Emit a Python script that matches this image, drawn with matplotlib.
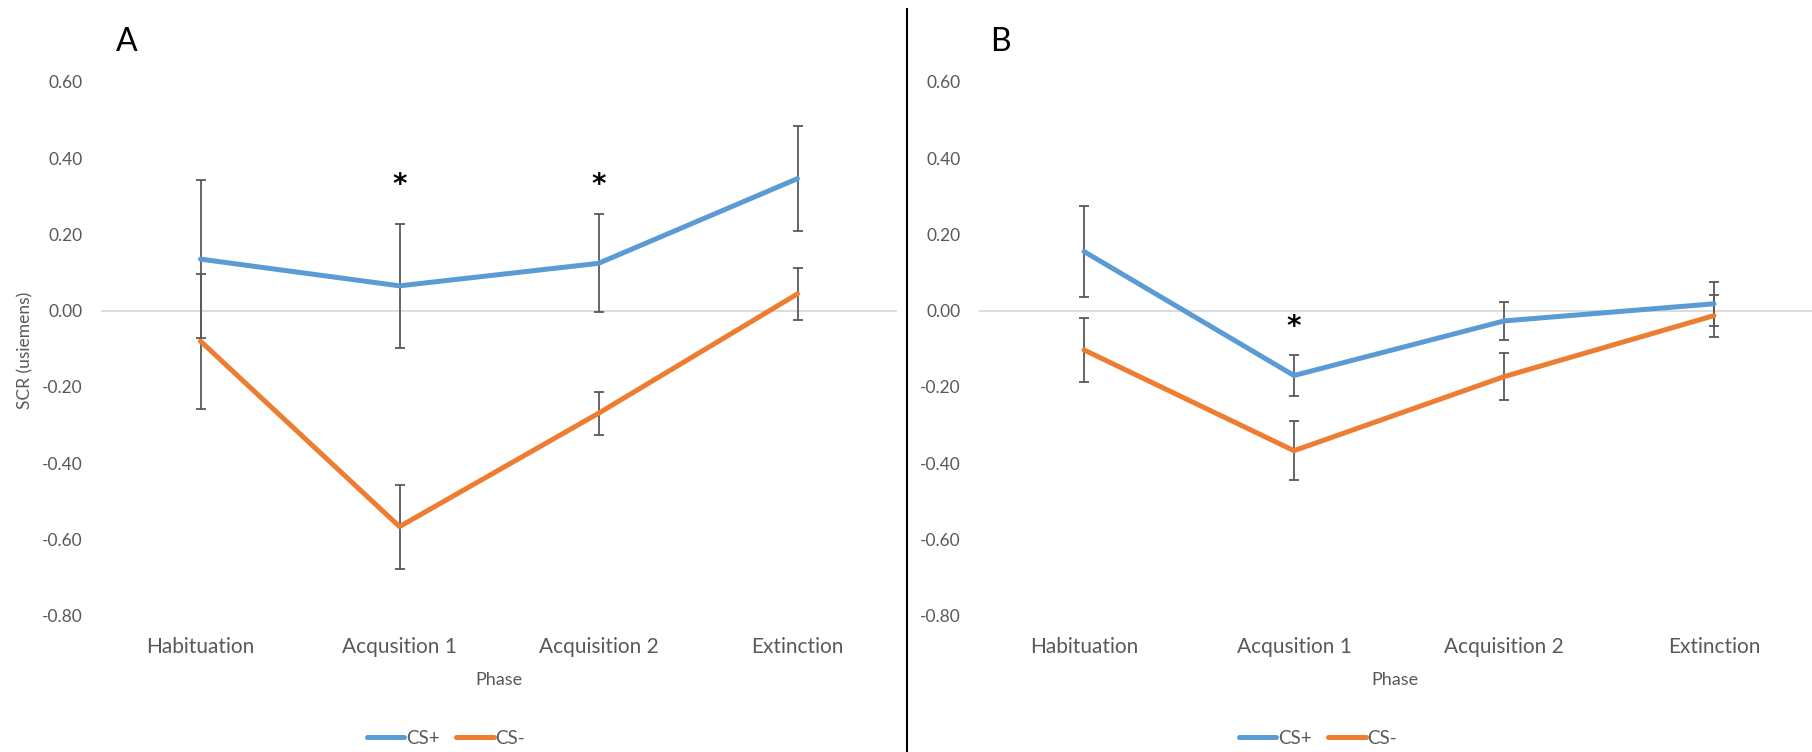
import matplotlib
matplotlib.use("Agg")
import matplotlib.pyplot as plt
from matplotlib.lines import Line2D

plt.rcParams["font.family"] = ["Lato", "DejaVu Sans"]
plt.rcParams["axes.unicode_minus"] = False

phases = ["Habituation", "Acqusition 1", "Acquisition 2", "Extinction"]

# panel A
cs_plus_a = [0.135, 0.065, 0.124, 0.346]
cs_plus_a_err = [0.207, 0.162, 0.128, 0.137]
cs_minus_a = [-0.080, -0.566, -0.269, 0.044]
cs_minus_a_err = [0.177, 0.110, 0.057, 0.068]
stars_a = [1, 2]
star_y_a = [0.33, 0.33]

# panel B
cs_plus_b = [0.155, -0.170, -0.027, 0.018]
cs_plus_b_err = [0.118, 0.053, 0.049, 0.057]
cs_minus_b = [-0.103, -0.367, -0.173, -0.013]
cs_minus_b_err = [0.085, 0.078, 0.061, 0.055]
stars_b = [1]
star_y_b = [-0.042]

yticks = [0.6, 0.4, 0.2, 0.0, -0.2, -0.4, -0.6, -0.8]

BLUE = "#5B9BD5"
ORANGE = "#ED7D31"
GREY = "#595959"

W, H = 1812, 752
fig = plt.figure(figsize=(W / 100, H / 100), dpi=100)


def px(x0, y_top, x1, y_bot):
    return [x0 / W, 1 - y_bot / H, (x1 - x0) / W, (y_bot - y_top) / H]


def panel(ax, plus, plus_err, minus, minus_err, stars, star_y, xmax):
    x = range(len(phases))
    ax.axhline(0, color="#D9D9D9", lw=1.3, zorder=1)
    for vals, errs, col in [(plus, plus_err, BLUE), (minus, minus_err, ORANGE)]:
        ax.errorbar(x, vals, yerr=errs, fmt="none", ecolor=GREY, elinewidth=1.3,
                    capsize=3.8, capthick=1.3, zorder=2)
        ax.plot(x, vals, color=col, lw=3.6, solid_capstyle="round", zorder=3)
    for i, yv in zip(stars, star_y):
        ax.text(i, yv, "*", ha="center", va="center", fontsize=20, color="black",
                family="DejaVu Sans", fontweight="bold")
    ax.set_xlim(-0.5, xmax)
    ax.set_ylim(-0.8, 0.6)
    ax.set_yticks(yticks)
    ax.set_yticklabels([f"{v:.2f}" for v in yticks])
    ax.set_xticks(list(x))
    ax.set_xticklabels(phases)
    ax.tick_params(axis="y", length=0, pad=13, labelsize=12.5, labelcolor=GREY)
    ax.tick_params(axis="x", length=0, pad=15, labelsize=15, labelcolor=GREY)
    for s in ax.spines.values():
        s.set_visible(False)


ax_a = fig.add_axes(px(101, 81.7, 897, 615.9))
panel(ax_a, cs_plus_a, cs_plus_a_err, cs_minus_a, cs_minus_a_err, stars_a, star_y_a, 3.5)
ax_b = fig.add_axes(px(979, 81.7, 1812, 615.9))
panel(ax_b, cs_plus_b, cs_plus_b_err, cs_minus_b, cs_minus_b_err, stars_b, star_y_b,
      -0.5 + 833 / 210)

fig.text(25 / W, 1 - 350 / H, "SCR (usiemens)", rotation=90, ha="center", va="center",
         fontsize=12.5, color=GREY)
fig.text(499 / W, 1 - 680 / H, "Phase", ha="center", va="center", fontsize=13, color=GREY)
fig.text(1395 / W, 1 - 680 / H, "Phase", ha="center", va="center", fontsize=13, color=GREY)

fig.text(127 / W, 1 - 42 / H, "A", ha="center", va="center", fontsize=23, color="black")
fig.text(1000 / W, 1 - 42 / H, "B", ha="center", va="center", fontsize=23, color="black")

# divider between the panels
fig.add_artist(Line2D([907 / W, 907 / W], [0, 1 - 9 / H], color="black", lw=1.5))

handles = [Line2D([], [], color=BLUE, lw=3.6, solid_capstyle="round"),
           Line2D([], [], color=ORANGE, lw=3.6, solid_capstyle="round")]
for cx in (446, 1318):
    fig.legend(handles, ["CS+", "CS-"], loc="center", bbox_to_anchor=(cx / W, 1 - 738 / H),
               ncol=2, frameon=False, fontsize=13.5, handlelength=2.0, handletextpad=0.1,
               columnspacing=0.85, labelcolor=GREY)

fig.savefig("out.png", dpi=100)
